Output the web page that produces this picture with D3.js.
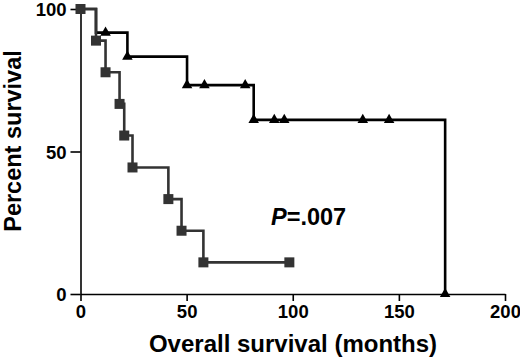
<!DOCTYPE html>
<html>
<head>
  <script src="https://d3js.org/d3.v7.min.js"></script>
  <style>
    body { margin: 0; background: #fff; }
    text { font-family: "Liberation Sans", Arial, Helvetica, sans-serif; font-weight: bold; fill: #000; }
  </style>
</head>
<body>
<div id="chart"></div>
<script>
// square group (lower curve)
var sqTimes = [0, 7.3, 11.8, 18.4, 20.6, 24.5, 41.4, 47.6, 57.9, 98.4];
var sqSurv  = [100, 88.9, 77.8, 66.7, 55.6, 44.4, 33.3, 22.2, 11.1, 11.1];

// triangle group (upper curve): step points
var triStepTimes = [0, 7.3, 22.1, 50.2, 81.6, 171.8];
var triStepSurv  = [100, 91.7, 83.3, 73.3, 61.1, 0];
// triangle markers
var triTimes = [11.8, 22.1, 50.2, 58.4, 77.6, 81.6, 91.3, 96, 133, 145.4, 171.8];
var triSurv  = [91.7, 83.3, 73.3, 73.3, 73.3, 61.1, 61.1, 61.1, 61.1, 61.1, 0];

var xTicks = [0, 50, 100, 150, 200];
var yTicks = [0, 50, 100];

var width = 520, height = 359;
var svg = d3.select("#chart").append("svg").attr("width", width).attr("height", height);

var x = d3.scaleLinear().domain([0, 200]).range([80.5, 505]);
var y = d3.scaleLinear().domain([0, 100]).range([294, 9]);

// axes
var xAxis = svg.append("g").attr("transform", "translate(0,294)")
  .call(d3.axisBottom(x).tickValues(xTicks).tickSize(7).tickPadding(4).tickSizeOuter(0));
var yAxis = svg.append("g").attr("transform", "translate(80.5,0)")
  .call(d3.axisLeft(y).tickValues(yTicks).tickSize(10).tickPadding(4).tickSizeOuter(0));
[xAxis, yAxis].forEach(function(a){
  a.select(".domain").attr("stroke", "#000").attr("stroke-width", 1.6);
  a.selectAll(".tick line").attr("stroke", "#000").attr("stroke-width", 1.6);
  a.selectAll(".tick text").attr("font-size", 18.5).attr("fill", "#000")
    .style("font-family", '"Liberation Sans", Arial, sans-serif').style("font-weight", "bold");
});
yAxis.selectAll(".tick text").attr("dy", "0.36em");

var line = d3.line().curve(d3.curveStepAfter)
  .x(function(d){ return x(d[0]); }).y(function(d){ return y(d[1]); });

var sqData = d3.zip(sqTimes, sqSurv);
var triLine = d3.zip(triStepTimes, triStepSurv);

svg.append("path").datum(triLine).attr("d", line)
  .attr("fill", "none").attr("stroke", "#000").attr("stroke-width", 2.6);
svg.append("path").datum(sqData).attr("d", line)
  .attr("fill", "none").attr("stroke", "#333").attr("stroke-width", 2.6);

svg.selectAll("rect.sq").data(sqData).enter().append("rect")
  .attr("class", "sq")
  .attr("x", function(d){ return x(d[0]) - 5; })
  .attr("y", function(d){ return y(d[1]) - 5; })
  .attr("width", 10).attr("height", 10)
  .attr("fill", "#333");

svg.selectAll("path.tri").data(d3.zip(triTimes, triSurv)).enter().append("path")
  .attr("class", "tri")
  .attr("d", d3.symbol().type(d3.symbolTriangle).size(48))
  .attr("transform", function(d){ return "translate(" + x(d[0]) + "," + y(d[1]) + ")"; })
  .attr("fill", "#000");

// labels
svg.append("text").attr("x", 293).attr("y", 352).attr("text-anchor", "middle")
  .attr("font-size", 24).text("Overall survival (months)");
svg.append("text").attr("transform", "translate(21,141) rotate(-90)").attr("text-anchor", "middle")
  .attr("font-size", 23.5).text("Percent survival");

var p = svg.append("text").attr("x", 271).attr("y", 225).attr("font-size", 23.5);
p.append("tspan").attr("font-style", "italic").text("P");
p.append("tspan").text("=.007");
</script>
</body>
</html>
